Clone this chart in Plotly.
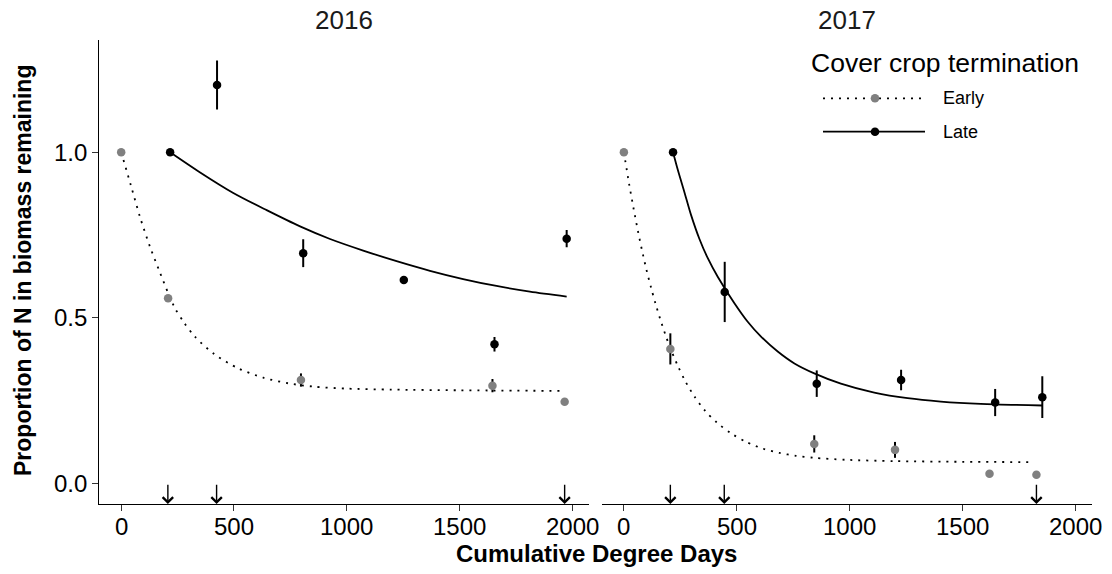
import plotly.graph_objects as go

W, H = 1112, 574

# ---------------- data ----------------
panels = ["2016", "2017"]

# 2016 observed points
early16_x = [0, 208, 797, 1646, 1966]
early16_y = [1.0, 0.559, 0.312, 0.295, 0.246]
early16_se = [0.0, 0.010, 0.020, 0.020, 0.008]
late16_x = [217, 425, 807, 1253, 1655, 1975]
late16_y = [1.0, 1.203, 0.695, 0.614, 0.420, 0.739]
late16_se = [0.0, 0.074, 0.042, 0.012, 0.022, 0.026]

# 2017 observed points
early17_x = [0, 206, 844, 1202, 1621, 1829]
early17_y = [1.0, 0.406, 0.119, 0.101, 0.029, 0.026]
early17_se = [0.0, 0.047, 0.026, 0.024, 0.004, 0.004]
late17_x = [218, 447, 855, 1229, 1646, 1855]
late17_y = [1.0, 0.578, 0.301, 0.312, 0.244, 0.260]
late17_se = [0.0, 0.091, 0.040, 0.031, 0.041, 0.063]

# fitted decay curves
fit_early16_x = [0, 43, 84, 128, 170, 208, 240, 279, 328, 413, 520, 630, 741, 852, 1000, 1200, 1500, 1966]
fit_early16_y = [1.0, 0.900, 0.803, 0.714, 0.640, 0.575, 0.527, 0.485, 0.442, 0.390, 0.347, 0.319, 0.302, 0.292, 0.286, 0.283, 0.281, 0.279]
fit_late16_x = [217, 350, 497, 645, 793, 926, 1073, 1221, 1369, 1516, 1664, 1812, 1975]
fit_late16_y = [1.0, 0.939, 0.877, 0.825, 0.776, 0.738, 0.703, 0.671, 0.642, 0.617, 0.596, 0.579, 0.564]
fit_early17_x = [0, 23, 43, 62, 80, 99, 121, 140, 161, 184, 206, 239, 271, 313, 360, 413, 475, 542, 615, 689, 763, 844, 985, 1202, 1500, 1804]
fit_early17_y = [1.0, 0.905, 0.830, 0.763, 0.705, 0.648, 0.590, 0.543, 0.496, 0.449, 0.408, 0.355, 0.310, 0.262, 0.219, 0.183, 0.151, 0.125, 0.105, 0.092, 0.083, 0.077, 0.071, 0.067, 0.065, 0.064]
fit_late17_x = [218, 239, 269, 298, 335, 372, 416, 490, 549, 608, 682, 756, 844, 962, 1110, 1258, 1405, 1582, 1855]
fit_late17_y = [1.0, 0.947, 0.878, 0.810, 0.738, 0.680, 0.624, 0.544, 0.488, 0.443, 0.398, 0.362, 0.332, 0.301, 0.274, 0.257, 0.247, 0.240, 0.235]

# arrow markers on the x axis
arrows16 = [207, 423, 1966]
arrows17 = [206, 445, 1829]

x_ticks = [0, 500, 1000, 1500, 2000]
x_ticktext = ["0", "500", "1000", "1500", "2000"]
y_ticks = [0.0, 0.5, 1.0]
y_ticktext = ["0.0", "0.5", "1.0"]

legend_title = "Cover crop termination"
legend_labels = ["Early", "Late"]
x_title = "Cumulative Degree Days"
y_title = "Proportion of N in biomass remaining"

# ---------------- style ----------------
FONT = "Liberation Sans, Arial, sans-serif"
GREY = "#808080"
BLACK = "#000000"
DOT = "2px,6px"

fig = go.Figure()


def add_panel(xa, ya, fe_x, fe_y, fl_x, fl_y, e_x, e_y, e_se, l_x, l_y, l_se):
    fig.add_trace(go.Scatter(x=fe_x, y=fe_y, mode="lines", xaxis=xa, yaxis=ya,
                             line=dict(color=BLACK, width=1.8, dash=DOT, shape="spline", smoothing=0.8),
                             showlegend=False, hoverinfo="skip"))
    fig.add_trace(go.Scatter(x=fl_x, y=fl_y, mode="lines", xaxis=xa, yaxis=ya,
                             line=dict(color=BLACK, width=1.8, shape="spline", smoothing=0.8),
                             showlegend=False, hoverinfo="skip"))
    fig.add_trace(go.Scatter(x=e_x, y=e_y, mode="markers", xaxis=xa, yaxis=ya,
                             marker=dict(color=GREY, size=8.5, line=dict(width=0)),
                             error_y=dict(type="data", array=e_se, color=BLACK, thickness=2, width=0),
                             showlegend=False))
    fig.add_trace(go.Scatter(x=l_x, y=l_y, mode="markers", xaxis=xa, yaxis=ya,
                             marker=dict(color=BLACK, size=8.5, line=dict(width=0)),
                             error_y=dict(type="data", array=l_se, color=BLACK, thickness=2, width=0),
                             showlegend=False))


add_panel("x", "y", fit_early16_x, fit_early16_y, fit_late16_x, fit_late16_y,
          early16_x, early16_y, early16_se, late16_x, late16_y, late16_se)
add_panel("x2", "y2", fit_early17_x, fit_early17_y, fit_late17_x, fit_late17_y,
          early17_x, early17_y, early17_se, late17_x, late17_y, late17_se)

XR = [-97, 2074]
YR = [-0.0625, 1.339]
ydom = [1 - 504 / H, 1 - 40 / H]

xcommon = dict(range=XR, showline=True, linecolor=BLACK, linewidth=1.1, ticks="outside",
               ticklen=6, tickwidth=1.1, tickcolor="#333333", tickvals=x_ticks,
               showticklabels=False, showgrid=False, zeroline=False, fixedrange=True)

fig.update_layout(
    width=W, height=H,
    margin=dict(l=0, r=0, t=0, b=0),
    paper_bgcolor="white", plot_bgcolor="white",
    showlegend=False,
    font=dict(family=FONT, color=BLACK),
    xaxis=dict(domain=[99.3 / W, 589 / W], anchor="y", **xcommon),
    xaxis2=dict(domain=[602 / W, 1091.7 / W], anchor="y2", **xcommon),
    yaxis=dict(domain=ydom, range=YR, anchor="x", showline=True, linecolor=BLACK, linewidth=1.1,
               ticks="outside", ticklen=6, tickwidth=1.1, tickcolor="#333333",
               tickvals=y_ticks, showticklabels=False,
               showgrid=False, zeroline=False, fixedrange=True),
    yaxis2=dict(domain=ydom, range=YR, anchor="x2", showline=False, showticklabels=False,
                ticks="", showgrid=False, zeroline=False, matches="y", fixedrange=True),
)

TICKFONT = dict(family=FONT, size=24, color=BLACK)
annotations = []
# tick labels
for xa in ("x", "x2"):
    for v, t in zip(x_ticks, x_ticktext):
        annotations.append(dict(x=v, y=1 - 526 / H, xref=xa, yref="paper", text=t, showarrow=False,
                                xanchor="center", yanchor="middle", font=TICKFONT))
for v, t in zip(y_ticks, y_ticktext):
    annotations.append(dict(x=89 / W, y=v, xref="paper", yref="y", text=t, showarrow=False,
                            xanchor="right", yanchor="middle", font=TICKFONT))

# arrows
for xa, ya, arr in (("x", "y", arrows16), ("x2", "y2", arrows17)):
    for xv in arr:
        annotations.append(dict(x=xv, y=YR[0], ax=xv, ay=0, xref=xa, yref=ya, axref=xa, ayref=ya,
                                showarrow=True, arrowhead=4, arrowsize=1.45, arrowwidth=1.4,
                                arrowcolor=BLACK, text="", standoff=0, startstandoff=0))

# strip titles
for i, cx in enumerate((344.2, 846.9)):
    annotations.append(dict(x=cx / W, y=1 - 20 / H, xref="paper", yref="paper", text=panels[i],
                            showarrow=False, xanchor="center", yanchor="middle",
                            font=dict(family=FONT, size=26, color="#1A1A1A")))
# axis titles
annotations.append(dict(x=596.5 / W, y=1 - 553 / H, xref="paper", yref="paper",
                        text="<b>" + x_title + "</b>", showarrow=False,
                        xanchor="center", yanchor="middle",
                        font=dict(family=FONT, size=24, color=BLACK)))
annotations.append(dict(x=23 / W, y=1 - 271 / H, xref="paper", yref="paper",
                        text="<b>" + y_title + "</b>", showarrow=False, textangle=-90,
                        xanchor="center", yanchor="middle",
                        font=dict(family=FONT, size=23, color=BLACK)))
# legend
annotations.append(dict(x=809 / W, y=1 - 62.7 / H, xref="paper", yref="paper", text=legend_title,
                        showarrow=False, xanchor="left", yanchor="middle",
                        font=dict(family=FONT, size=26.5, color=BLACK)))
leg_rows = [(98.3, GREY, DOT), (131.7, BLACK, "solid")]
shapes = []
for (ly, col, dash), lab in zip(leg_rows, legend_labels):
    yp = 1 - ly / H
    shapes.append(dict(type="line", xref="paper", yref="paper", x0=823 / W, x1=925 / W, y0=yp, y1=yp,
                       line=dict(color=BLACK, width=1.8, dash=dash)))
    shapes.append(dict(type="circle", xref="paper", yref="paper", xsizemode="pixel", ysizemode="pixel",
                       xanchor=875 / W, yanchor=yp, x0=-4.3, x1=4.3, y0=-4.3, y1=4.3,
                       fillcolor=col, line=dict(width=0)))
    annotations.append(dict(x=941 / W, y=yp, xref="paper", yref="paper", text=lab, showarrow=False,
                            xanchor="left", yanchor="middle",
                            font=dict(family=FONT, size=18, color=BLACK)))

fig.update_layout(annotations=annotations, shapes=shapes)
fig.write_html("out.html")
